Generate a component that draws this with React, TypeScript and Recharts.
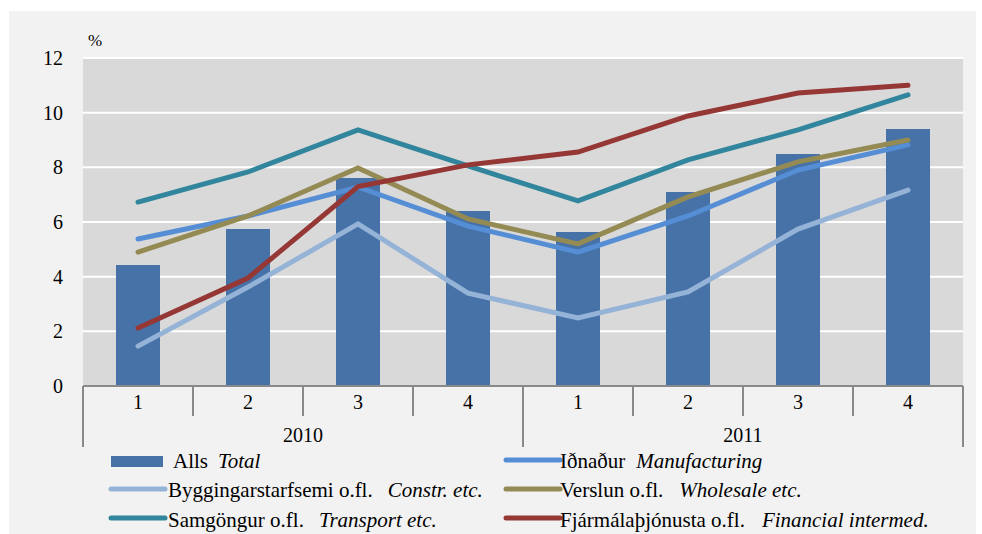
import React from 'react';
import { ComposedChart, Bar, Line, XAxis, YAxis, CartesianGrid, Legend } from 'recharts';

const quarters = ['1', '2', '3', '4', '1', '2', '3', '4'];
const years = ['2010', '2010', '2010', '2010', '2011', '2011', '2011', '2011'];

const total = [4.43, 5.74, 7.61, 6.4, 5.63, 7.1, 8.49, 9.4];
const manufacturing = [5.38, 6.22, 7.28, 5.85, 4.9, 6.22, 7.9, 8.82];
const construction = [1.46, 3.62, 5.93, 3.4, 2.49, 3.44, 5.74, 7.17];
const wholesale = [4.9, 6.22, 7.98, 6.11, 5.2, 6.92, 8.2, 9.0];
const transport = [6.73, 7.83, 9.37, 8.05, 6.77, 8.27, 9.37, 10.65];
const financial = [2.12, 3.95, 7.3, 8.09, 8.56, 9.88, 10.72, 11.0];

const yTicks = [0, 2, 4, 6, 8, 10, 12];

const W = 982;
const H = 534;
const PLOT_LEFT = 83;
const PLOT_RIGHT = 963;
const BAND = (PLOT_RIGHT - PLOT_LEFT) / quarters.length;
const FONT = 'Liberation Serif, Tinos, Times New Roman, Times, DejaVu Serif, serif';
const AXIS_GREY = '#898989';

const C = {
  total: '#4672a8',
  manufacturing: '#558ed5',
  construction: '#95b3d7',
  wholesale: '#948a54',
  transport: '#31859c',
  financial: '#953735',
};

const data = quarters.map((q, i) => ({
  q,
  year: years[i],
  total: total[i],
  manufacturing: manufacturing[i],
  construction: construction[i],
  wholesale: wholesale[i],
  transport: transport[i],
  financial: financial[i],
}));

// legend rows: [key, normal text, italic text, gap, column, row, isBar]
const legendItems: [string, string, string, number, number, number, boolean][] = [
  ['total', 'Alls', 'Total', 10, 0, 0, true],
  ['construction', 'Byggingarstarfsemi o.fl.', 'Constr. etc.', 15, 0, 1, false],
  ['transport', 'Samgöngur o.fl.', 'Transport etc.', 15, 0, 2, false],
  ['manufacturing', 'Iðnaður', 'Manufacturing', 11, 1, 0, false],
  ['wholesale', 'Verslun o.fl.', 'Wholesale etc.', 16, 1, 1, false],
  ['financial', 'Fjármálaþjónusta o.fl.', 'Financial intermed.', 17, 1, 2, false],
];

const txt = { fontFamily: FONT };

const QuarterTick = (props: any) => {
  const { x, y, index, payload } = props;
  return (
    <g>
      {index % 4 !== 0 && (
        <line x1={x - BAND / 2} x2={x - BAND / 2} y1={y} y2={y + 30} stroke={AXIS_GREY} strokeWidth={2} />
      )}
      <text x={x} y={y + 23} textAnchor="middle" style={txt} fontSize={20} fill="#000">
        {payload.value}
      </text>
    </g>
  );
};

const YearTick = (props: any) => {
  const { x, y, index, payload } = props;
  return (
    <g>
      {index % 4 === 0 && (
        <>
          <line x1={x - BAND / 2} x2={x - BAND / 2} y1={y - 30} y2={y + 31} stroke={AXIS_GREY} strokeWidth={2} />
          <text x={x + 1.5 * BAND} y={y + 26} textAnchor="middle" style={txt} fontSize={20} fill="#000">
            {payload.value}
          </text>
        </>
      )}
      {index === quarters.length - 1 && (
        <line x1={x + BAND / 2} x2={x + BAND / 2} y1={y - 30} y2={y + 31} stroke={AXIS_GREY} strokeWidth={2} />
      )}
    </g>
  );
};

const LegendContent = () => {
  const colX = [[111, 173], [506, 565]];
  const baselines = [18, 47, 77];
  const iconY = [10, 39, 68];
  return (
    <svg width={W} height={84} style={{ display: 'block' }}>
      {legendItems.map(([key, normal, italic, gap, col, row, isBar]) => {
        const [ix, tx] = colX[col];
        const color = (C as any)[key];
        const textX = isBar ? tx : tx - 5;
        return (
          <g key={key}>
            {isBar ? (
              <rect x={ix} y={6} width={52} height={11} fill={color} />
            ) : (
              <line x1={ix} x2={ix + 54} y1={iconY[row]} y2={iconY[row]} stroke={color} strokeWidth={5} strokeLinecap="round" />
            )}
            <text x={textX} y={baselines[row]} style={txt} fontSize={21} fill="#000">
              {normal}
              <tspan dx={gap} fontStyle="italic">{italic}</tspan>
            </text>
          </g>
        );
      })}
    </svg>
  );
};

const App: React.FC = () => {
  return (
    <div style={{ position: 'absolute', left: 0, top: 0, width: W, height: H, background: '#fff', overflow: 'hidden', fontFamily: FONT }}>
      <div style={{ position: 'absolute', left: 9, top: 11, width: 967, height: 523, background: '#f2f2f2' }} />
      <div style={{ position: 'absolute', left: 0, top: 0 }}>
        <ComposedChart
          width={W}
          height={H}
          data={data}
          style={txt}
          margin={{ top: 58, right: W - PLOT_RIGHT, left: 23, bottom: 88 }}
        >
          <CartesianGrid fill="#d9d9d9" stroke="#ffffff" strokeWidth={2} vertical={false} />
          <XAxis
            dataKey="q"
            interval={0}
            height={30}
            tickSize={0}
            tickMargin={0}
            tickLine={false}
            axisLine={{ stroke: AXIS_GREY, strokeWidth: 2 }}
            tick={<QuarterTick />}
          />
          <XAxis
            xAxisId="year"
            dataKey="year"
            interval={0}
            height={30}
            tickSize={0}
            tickMargin={0}
            tickLine={false}
            axisLine={false}
            tick={<YearTick />}
          />
          <YAxis
            domain={[0, 12]}
            ticks={yTicks}
            width={60}
            axisLine={false}
            tickLine={false}
            tickSize={0}
            tickMargin={20}
            tick={{ fontFamily: FONT, fontSize: 20, fill: '#000', style: txt }}
            label={{
              content: (p: any) => (
                <text x={p.viewBox.x + p.viewBox.width + 5} y={p.viewBox.y - 12} style={txt} fontSize={17} fill="#000">
                  %
                </text>
              ),
            }}
          />
          <Bar dataKey="total" fill={C.total} barSize={44} isAnimationActive={false} />
          <Line dataKey="manufacturing" stroke={C.manufacturing} strokeWidth={5} dot={false} activeDot={false} strokeLinecap="round" isAnimationActive={false} />
          <Line dataKey="construction" stroke={C.construction} strokeWidth={5} dot={false} activeDot={false} strokeLinecap="round" isAnimationActive={false} />
          <Line dataKey="wholesale" stroke={C.wholesale} strokeWidth={5} dot={false} activeDot={false} strokeLinecap="round" isAnimationActive={false} />
          <Line dataKey="transport" stroke={C.transport} strokeWidth={5} dot={false} activeDot={false} strokeLinecap="round" isAnimationActive={false} />
          <Line dataKey="financial" stroke={C.financial} strokeWidth={5} dot={false} activeDot={false} strokeLinecap="round" isAnimationActive={false} />
          <Legend
            layout="vertical"
            align="center"
            verticalAlign="middle"
            content={<LegendContent />}
            wrapperStyle={{ left: 0, top: 450, width: W, height: 84 }}
          />
        </ComposedChart>
      </div>
    </div>
  );
};

export default App;
